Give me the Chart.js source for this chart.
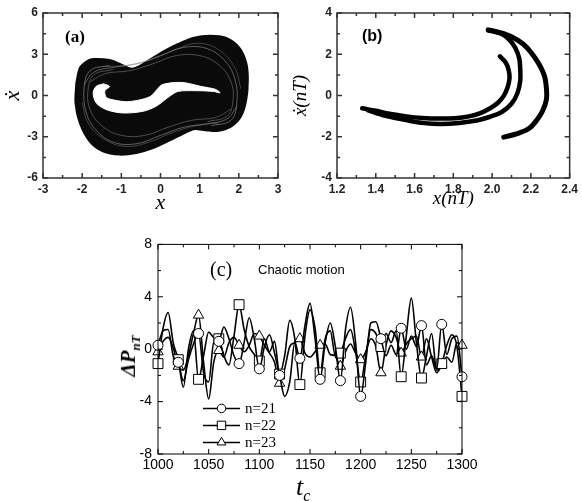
<!DOCTYPE html>
<html>
<head>
<meta charset="utf-8">
<script src="https://cdn.jsdelivr.net/npm/chart.js"></script>
<style>
  html, body { margin: 0; padding: 0; background: #fff; }
  #page { position: relative; width: 582px; height: 501px; overflow: hidden; background: #fff; }
  canvas { position: absolute; }
  .lbl { position: absolute; white-space: nowrap; line-height: 1; color: #000; }
</style>
</head>
<body>
<div id="page">
  <canvas id="phaseChart" width="290" height="230" style="left:0;top:0"></canvas>
  <canvas id="poincareChart" width="292" height="230" style="left:290px;top:0"></canvas>
  <canvas id="deltaChart" width="400" height="271" style="left:100px;top:230px"></canvas>

  <div class="lbl" style="left:65px;top:27px;font:bold 17px 'Liberation Serif'">(a)</div>
  <div class="lbl" style="left:362px;top:27px;font:bold 16px 'Liberation Sans'">(b)</div>
  <div class="lbl" style="left:210px;top:258px;font:20px 'Liberation Serif'">(c)</div>
  <div class="lbl" style="left:258px;top:262px;font:13px 'Liberation Sans'">Chaotic motion</div>
  <div class="lbl" style="left:130px;top:356px;transform:translate(-50%,-50%) rotate(-90deg);font:bold italic 21px 'Liberation Serif'">ΔP<sub style="font-size:13px">nT</sub></div>
  <div class="lbl" style="left:296px;top:472px;font:italic 26px 'Liberation Serif'">t<sub style="font-size:16px">c</sub></div>
</div>

<script>
// ---- panel (a): phase portrait, outline (x, xdot)
const attractorOuter = [
  [-2.15, 0.90], [-2.06, 2.00], [-1.90, 2.45], [-1.72, 2.65], [-1.30, 2.58], [-1.00, 2.25],
  [-0.75, 1.95], [-0.55, 2.12], [-0.25, 2.65], [0.10, 3.25], [0.45, 3.75], [0.83, 4.18], [1.26, 4.35],
  [1.68, 4.18], [2.02, 3.45], [2.19, 2.36], [2.23, 1.15], [2.19, -0.30], [2.06, -1.50],
  [1.81, -2.24], [1.45, -2.58], [1.15, -2.52], [0.85, -2.45], [0.60, -2.75], [0.25, -3.25],
  [-0.19, -3.82], [-0.62, -4.18], [-1.04, -4.30], [-1.47, -4.06], [-1.81, -3.33], [-2.06, -2.00],
  [-2.17, -0.55], [-2.15, 0.90]
];
const attractorHole = [
  [-1.45, 0.85], [-1.30, 0.65], [-1.42, 0.35], [-1.38, -0.15], [-1.15, -0.35], [-0.85, -0.45],
  [-0.50, -0.30], [-0.25, -0.05], [-0.10, 0.40], [0.05, 0.80], [0.55, 0.95], [1.05, 0.65],
  [1.40, 0.45], [1.52, 0.20], [1.35, 0.30], [0.90, 0.35], [0.45, 0.30], [0.23, -0.06],
  [-0.11, -0.78], [-0.45, -1.15], [-0.96, -1.27], [-1.38, -1.03], [-1.64, -0.55], [-1.72, 0.18],
  [-1.64, 0.67], [-1.45, 0.85]
];
const streakLow1 = [[-1.30, 2.20], [-1.80, 1.80], [-1.95, 0.50], [-1.90, -1.20], [-1.65, -2.50], [-1.20, -3.40], [-0.60, -3.50], [0.00, -2.90], [0.60, -2.30], [1.20, -2.05], [1.70, -1.70], [1.95, -0.80]];
const streakLow2 = [[-1.20, 1.90], [-1.70, 1.50], [-1.85, 0.40], [-1.80, -1.00], [-1.50, -2.20], [-1.00, -2.90], [-0.40, -2.90], [0.20, -2.30], [0.80, -1.80], [1.40, -1.60], [1.80, -1.00]];
const streakLow3 = [[-2.00, -0.50], [-1.85, -2.00], [-1.45, -3.15], [-0.90, -3.70], [-0.30, -3.40], [0.30, -2.70], [0.90, -2.20], [1.50, -2.00]];
const streakHigh1 = [[1.30, -2.20], [1.80, -1.80], [1.95, -0.50], [1.90, 1.20], [1.65, 2.50], [1.20, 3.40], [0.60, 3.50], [0.00, 2.90], [-0.60, 2.30], [-1.20, 2.05], [-1.70, 1.70], [-1.95, 0.80]];
const streakHigh2 = [[1.20, -1.90], [1.70, -1.50], [1.85, -0.40], [1.80, 1.00], [1.50, 2.20], [1.00, 2.90], [0.40, 2.90], [-0.20, 2.30], [-0.80, 1.80], [-1.40, 1.60], [-1.80, 1.00]];
const streakHigh3 = [[2.05, 0.50], [1.90, 2.00], [1.50, 3.30], [0.95, 3.80], [0.35, 3.30], [-0.25, 2.60], [-0.85, 2.20], [-1.50, 2.10]];

// ---- panel (b): Poincare section (x(nT), xdot(nT))
const poincareInner = [
  [1.33, -0.62], [1.40, -0.74], [1.47, -0.88], [1.55, -1.00], [1.64, -1.09], [1.73, -1.12],
  [1.81, -1.10], [1.88, -1.01], [1.94, -0.85], [1.99, -0.62], [2.03, -0.35], [2.06, -0.02],
  [2.08, 0.40], [2.09, 0.85], [2.085, 1.25], [2.07, 1.60], [2.04, 1.90]
];
const poincareMiddle = [
  [1.36, -0.72], [1.45, -0.98], [1.55, -1.18], [1.65, -1.34], [1.74, -1.38], [1.83, -1.33],
  [1.92, -1.21], [1.99, -1.03], [2.05, -0.80], [2.10, -0.40], [2.13, 0.10], [2.145, 0.70],
  [2.145, 1.30], [2.14, 1.80], [2.12, 2.30], [2.09, 2.70], [2.05, 2.98], [2.00, 3.12], [1.98, 3.15]
];
const poincareOuter = [
  [1.98, 3.18], [2.04, 3.05], [2.10, 2.85], [2.16, 2.50], [2.20, 2.10], [2.24, 1.55], [2.27, 0.95],
  [2.28, 0.35], [2.28, -0.20], [2.26, -0.75], [2.23, -1.20], [2.19, -1.60], [2.13, -1.85], [2.06, -2.02]
];

// ---- panel (c): delta P_nT against t_c
const tc = [1000, 1005, 1010, 1015, 1020, 1025, 1030, 1035, 1040, 1045, 1050, 1055, 1060, 1065, 1070, 1075,
  1080, 1085, 1090, 1095, 1100, 1105, 1110, 1115, 1120, 1125, 1130, 1135, 1140, 1145, 1150, 1155,
  1160, 1165, 1170, 1175, 1180, 1185, 1190, 1195, 1200, 1205, 1210, 1215, 1220, 1225, 1230, 1235,
  1240, 1245, 1250, 1255, 1260, 1265, 1270, 1275, 1280, 1285, 1290, 1295, 1300];
const dP21 = [0.3, 1.4, 1.5, -0.5, -1.0, -2.4, -0.8, 0.4, 1.2, -1.8, -2.5, 0.5, 0.6, 1.7, 0.8, -0.5,
  -1.1, 0.5, 2.4, 0.8, -1.5, 0.2, 1.1, -0.3, -2.0, -3.6, -2.5, 0.5, -0.7, 1.8, 3.5, 0.8,
  -2.3, 0.5, 2.0, 0.2, -2.4, 1.5, 3.2, 0.5, -3.6, -1.0, 2.0, 2.1, 0.8, -0.5, 0.3, -0.4,
  1.6, 0.0, 1.0, 0.2, 1.8, -1.2, -0.5, -1.5, 1.9, -0.4, 0.8, 1.0, -2.1];
const dP22 = [-1.1, 1.6, 2.8, 0.5, -0.8, -2.9, 0.0, 1.4, -2.3, -0.5, 1.3, 0.9, 0.8, -0.5, -1.2, 1.0,
  3.4, 1.5, 0.2, -0.4, -0.9, 0.8, -0.2, 0.6, -1.9, -0.5, 2.2, 0.8, -2.7, 1.0, 3.0, 1.6,
  -1.8, 0.8, 1.4, -0.5, -0.3, 0.8, 1.5, -0.2, -2.5, -0.5, 1.5, 1.2, 0.2, 1.2, 0.5, 1.4,
  -2.1, 1.0, 3.9, 0.5, -2.2, -0.5, 1.2, -1.6, -1.1, 0.3, 1.1, 0.2, -3.6];
const dP23 = [-0.2, 0.6, 0.9, 0.1, -1.3, -1.6, -0.5, 1.2, 2.6, -1.0, -3.8, -1.0, -0.1, -0.6, 0.5, 0.9,
  0.3, -0.2, 0.3, 1.2, 1.0, 0.3, -0.3, -1.0, -2.6, -1.5, 0.2, 0.5, 0.8, -0.3, -0.6, -0.2,
  0.3, 0.4, -0.4, -0.5, -1.3, -0.2, 0.4, -0.3, -0.8, -0.2, 0.8, 0.2, -1.8, 0.3, 1.4, 0.9,
  -0.3, 0.4, 0.8, 1.0, -0.6, 0.8, -0.6, -1.8, -1.2, -0.6, -1.0, 0.5, 0.3];
const seriesLabels = ['n=21', 'n=22', 'n=23'];

const pts = arr => arr.map(([x, y]) => ({x, y}));

// box frame with inward major/minor ticks on all four sides
const framePlugin = {
  id: 'frame',
  afterDatasetsDraw(chart, args, opts) {
    const {ctx, chartArea: a, scales: {x, y}} = chart;
    ctx.save();
    ctx.strokeStyle = opts.color;
    ctx.lineWidth = opts.lineWidth;
    ctx.strokeRect(a.left, a.top, a.right - a.left, a.bottom - a.top);
    const marks = scale => {
      const v = scale.ticks.map(t => t.value), out = [];
      v.forEach((val, i) => {
        out.push([val, opts.major]);
        if (i < v.length - 1) out.push([(val + v[i + 1]) / 2, opts.minor]);
      });
      return out;
    };
    ctx.beginPath();
    marks(x).forEach(([v, len]) => {
      const p = x.getPixelForValue(v);
      ctx.moveTo(p, a.bottom); ctx.lineTo(p, a.bottom - len);
      ctx.moveTo(p, a.top); ctx.lineTo(p, a.top + len);
    });
    marks(y).forEach(([v, len]) => {
      const p = y.getPixelForValue(v);
      ctx.moveTo(a.left, p); ctx.lineTo(a.left + len, p);
      ctx.moveTo(a.right, p); ctx.lineTo(a.right - len, p);
    });
    ctx.stroke();
    ctx.restore();
  }
};

function drawMarker(ctx, style, r, x, y) {
  ctx.beginPath();
  if (style === 'rect') {
    const h = r * Math.SQRT1_2;
    ctx.rect(x - h, y - h, 2 * h, 2 * h);
  } else if (style === 'triangle') {
    ctx.moveTo(x, y - r);
    ctx.lineTo(x + 0.866 * r, y + 0.5 * r);
    ctx.lineTo(x - 0.866 * r, y + 0.5 * r);
    ctx.closePath();
  } else {
    ctx.arc(x, y, r, 0, Math.PI * 2);
  }
  ctx.fill();
  ctx.stroke();
}

// legend drawn inside the plot, line + marker + label
const insideLegend = {
  id: 'insideLegend',
  afterDatasetsDraw(chart, args, opts) {
    const {ctx, chartArea: a} = chart;
    ctx.save();
    chart.data.datasets.forEach((ds, i) => {
      const y = a.top + opts.top + i * opts.gap;
      const x0 = a.left + opts.left;
      ctx.strokeStyle = '#000';
      ctx.lineWidth = 1.5;
      ctx.beginPath(); ctx.moveTo(x0, y); ctx.lineTo(x0 + opts.lineLen, y); ctx.stroke();
      ctx.fillStyle = '#fff';
      ctx.lineWidth = 1;
      drawMarker(ctx, ds.pointStyle, ds.markerSize * 0.85, x0 + opts.lineLen / 2, y);
      ctx.fillStyle = '#000';
      ctx.font = opts.font;
      ctx.textBaseline = 'middle';
      ctx.fillText(ds.label, x0 + opts.lineLen + 5, y + 1);
    });
    ctx.restore();
  }
};

const boldTick = {family: 'Liberation Sans', size: 12, weight: 'bold'};
const streak = (arr, shade, order) => ({data: pts(arr), borderColor: shade, borderWidth: 0.8, tension: 0.4, order});

// ---------- (a)
new Chart(document.getElementById('phaseChart'), {
  type: 'line',
  data: {
    datasets: [
      {data: pts(attractorOuter), fill: 'shape', backgroundColor: '#0a0a0a', borderColor: '#0a0a0a', borderWidth: 2, tension: 0.3, order: 4},
      {data: pts(attractorHole), fill: 'shape', backgroundColor: '#fff', borderColor: '#fff', borderWidth: 1, tension: 0.3, order: 3},
      streak(streakLow1, 'rgba(150,150,150,0.75)', 2),
      streak(streakLow2, 'rgba(120,120,120,0.75)', 2),
      streak(streakLow3, 'rgba(110,110,110,0.7)', 2),
      streak(streakHigh1, 'rgba(150,150,150,0.75)', 1),
      streak(streakHigh2, 'rgba(120,120,120,0.75)', 1),
      streak(streakHigh3, 'rgba(110,110,110,0.7)', 1)
    ]
  },
  options: {
    responsive: false,
    animation: false,
    devicePixelRatio: 1,
    layout: {padding: {top: 13, right: 12, left: 0, bottom: 0}},
    elements: {point: {radius: 0}},
    plugins: {legend: {display: false}, tooltip: {enabled: false},
      frame: {color: '#333', lineWidth: 1.5, major: 5, minor: 3}},
    scales: {
      x: {type: 'linear', min: -3, max: 3,
        ticks: {stepSize: 1, font: boldTick, color: '#222', padding: 4, maxRotation: 0},
        grid: {display: false, drawTicks: false}, border: {display: false},
        title: {display: true, text: 'x', font: {family: 'Liberation Serif', style: 'italic', size: 22}, color: '#000', padding: {top: 0, bottom: 14}},
        afterFit: s => { s.height = 52; }},
      y: {min: -6, max: 6,
        ticks: {stepSize: 3, font: boldTick, color: '#222', padding: 5},
        grid: {display: false, drawTicks: false}, border: {display: false},
        title: {display: true, text: 'ẋ', font: {family: 'Liberation Serif', style: 'italic', size: 22}, color: '#000', padding: {top: 0, bottom: 0}},
        afterFit: s => { s.width = 43; }}
    }
  },
  plugins: [framePlugin]
});

// ---------- (b)
const arcStyle = {borderColor: '#000', backgroundColor: '#000', borderWidth: 4.5, pointRadius: 1.5, pointBorderWidth: 0, fill: false, tension: 0.35, borderCapStyle: 'round'};
new Chart(document.getElementById('poincareChart'), {
  type: 'line',
  data: {
    datasets: [
      Object.assign({data: pts(poincareInner)}, arcStyle),
      Object.assign({data: pts(poincareMiddle)}, arcStyle),
      Object.assign({data: pts(poincareOuter)}, arcStyle, {borderWidth: 5})
    ]
  },
  options: {
    responsive: false,
    animation: false,
    devicePixelRatio: 1,
    layout: {padding: {top: 13, right: 8, left: 0, bottom: 0}},
    plugins: {legend: {display: false}, tooltip: {enabled: false},
      frame: {color: '#333', lineWidth: 1.5, major: 5, minor: 3}},
    scales: {
      x: {type: 'linear', min: 1.2, max: 2.4,
        ticks: {stepSize: 0.2, font: boldTick, color: '#222', padding: 4, maxRotation: 0, callback: v => v.toFixed(1)},
        grid: {display: false, drawTicks: false}, border: {display: false},
        title: {display: true, text: 'x(nT)', font: {family: 'Liberation Serif', style: 'italic', size: 19}, color: '#000', padding: {top: 0, bottom: 20}},
        afterFit: s => { s.height = 52; }},
      y: {min: -4, max: 4,
        ticks: {stepSize: 2, font: boldTick, color: '#222', padding: 5},
        grid: {display: false, drawTicks: false}, border: {display: false},
        title: {display: true, text: 'ẋ(nT)', font: {family: 'Liberation Serif', style: 'italic', size: 19}, color: '#000', padding: {top: 0, bottom: 0}},
        afterFit: s => { s.width = 47; }}
    }
  },
  plugins: [framePlugin]
});

// ---------- (c)
const markerStyles = ['circle', 'rect', 'triangle'];
const markerSizes = [5, 7, 6];
const seriesValues = [dP21, dP22, dP23];
new Chart(document.getElementById('deltaChart'), {
  type: 'line',
  data: {
    datasets: seriesValues.map((vals, i) => ({
      label: seriesLabels[i],
      data: vals.map((v, k) => ({x: tc[k], y: v})),
      borderColor: '#000',
      borderWidth: 1.6,
      cubicInterpolationMode: 'monotone',
      fill: false,
      clip: false,
      pointStyle: markerStyles[i],
      markerSize: markerSizes[i],
      pointRadius: c => ((tc[c.dataIndex] - 1000) % 20 === 0 ? markerSizes[i] : 0),
      pointBackgroundColor: '#fff',
      pointBorderColor: '#000',
      pointBorderWidth: 1
    }))
  },
  options: {
    responsive: false,
    animation: false,
    devicePixelRatio: 1,
    layout: {padding: {top: 13, right: 38, left: 0, bottom: 0}},
    plugins: {legend: {display: false}, tooltip: {enabled: false},
      frame: {color: '#000', lineWidth: 1, major: 5, minor: 3},
      insideLegend: {left: 45, top: 164, gap: 17, lineLen: 37, font: "15px 'Liberation Serif'"}},
    scales: {
      x: {type: 'linear', min: 1000, max: 1300,
        ticks: {stepSize: 50, font: {family: 'Liberation Sans', size: 14}, color: '#000', padding: 3, maxRotation: 0, callback: v => String(v)},
        grid: {display: false, drawTicks: false}, border: {display: false},
        afterFit: s => { s.height = 47; }},
      y: {min: -8, max: 8,
        ticks: {stepSize: 4, font: {family: 'Liberation Sans', size: 14}, color: '#000', padding: 6},
        grid: {display: false, drawTicks: false}, border: {display: false},
        afterFit: s => { s.width = 58; }}
    }
  },
  plugins: [framePlugin, insideLegend]
});
</script>
</body>
</html>
